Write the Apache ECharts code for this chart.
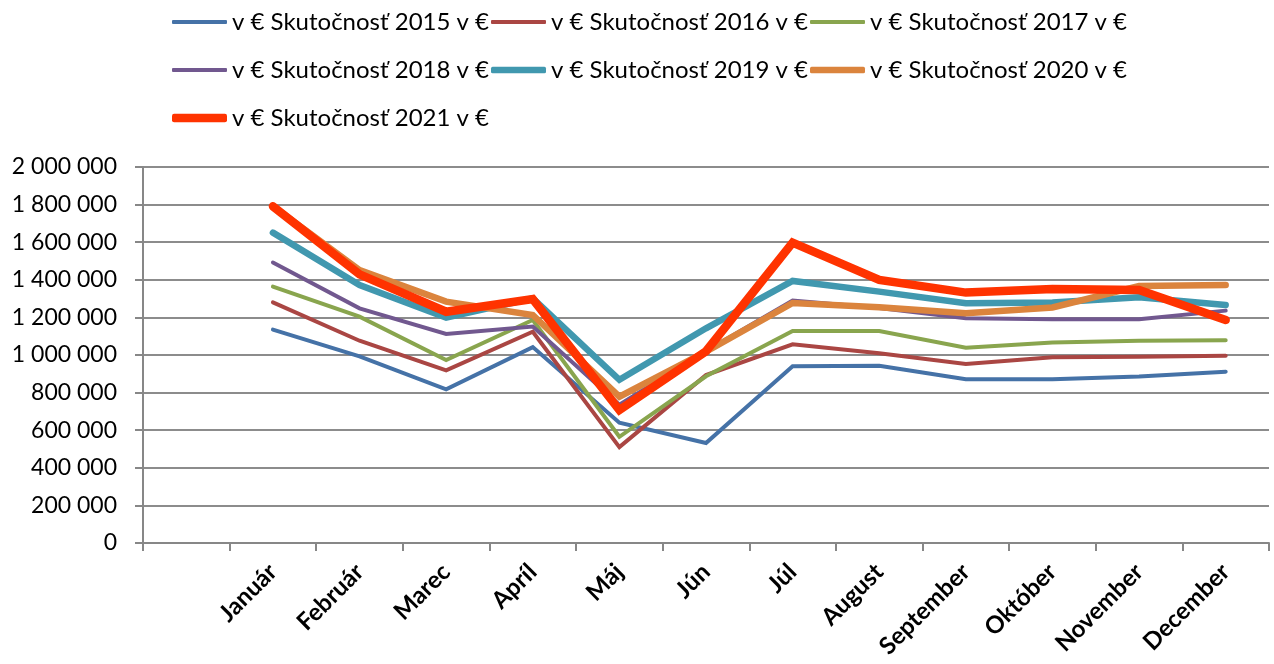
<!DOCTYPE html>
<html>
<head>
<meta charset="utf-8">
<script src="https://cdn.jsdelivr.net/npm/echarts@6/dist/echarts.min.js"></script>
<style>
html,body{margin:0;padding:0;background:#fff;}
#chart{width:1274px;height:664px;}
</style>
</head>
<body>
<div id="chart"></div>
<script>
// mesiace (prvá kategória je prázdna ako v pôvodnom grafe)
let months=["Január","Február","Marec","Apríl","Máj","Jún","Júl","August","September","Október","November","December"]
let names=["v € Skutočnosť 2015 v €","v € Skutočnosť 2016 v €","v € Skutočnosť 2017 v €","v € Skutočnosť 2018 v €","v € Skutočnosť 2019 v €","v € Skutočnosť 2020 v €","v € Skutočnosť 2021 v €"]

let y2015=[1135000,993000,817000,1042000,640000,532000,940000,943000,871000,871000,885000,911000]
let y2016=[1280000,1076000,918000,1124000,510000,893000,1057000,1009000,952000,988000,991000,996000]
let y2017=[1364000,1204000,973000,1186000,565000,887000,1128000,1128000,1039000,1066000,1076000,1078000]
let y2018=[1492000,1248000,1112000,1151000,735000,1022000,1290000,1250000,1196000,1190000,1190000,1236000]
let y2019=[1651000,1372000,1199000,1301000,868000,1142000,1394000,1337000,1275000,1279000,1307000,1266000]
let y2020=[1792000,1452000,1284000,1213000,778000,1018000,1277000,1254000,1222000,1253000,1367000,1372000]
let y2021=[1791000,1429000,1230000,1297000,707000,1020000,1598000,1399000,1332000,1351000,1346000,1186000]

let colors=["#4572A7","#AA4643","#89A54E","#71588F","#4198AF","#DB843D","#FF3300"]
let widths=[4,4,4,4,6.5,6.5,8.5]

let myChart=echarts.init(document.getElementById("chart"))

let allData=[y2015,y2016,y2017,y2018,y2019,y2020,y2021]
let series=allData.map((d,i)=>({
  name:names[i],
  type:"line",
  data:[null].concat(d),
  symbol:"none",
  color:colors[i],
  lineStyle:{width:widths[i],color:colors[i],cap:"round",join:"miter"}
}))

// jedna legenda na položku, aby hrúbka ikony sedela s hrúbkou čiary
let legends=names.map((n,i)=>({
  data:[{name:n,icon:"roundRect"}],
  left:172+(i%3)*319,
  top:[22,70,118][Math.floor(i/3)]-14,
  padding:0,
  itemWidth:55,
  itemHeight:widths[i],
  textStyle:{
    fontFamily:"Lato",
    fontSize:24,
    color:"#000",
    lineHeight:28
  }
}))

myChart.setOption({
  animation:false,
  legend:legends,
  grid:{
    left:143,
    right:5,
    top:167,
    bottom:121
  },
  xAxis:{
    type:"category",
    boundaryGap:true,
    data:[""].concat(months),
    axisLine:{lineStyle:{color:"#878787",width:2}},
    axisTick:{show:true,length:8,lineStyle:{color:"#878787",width:2}},
    axisLabel:{
      rotate:45,
      interval:0,
      margin:25,
      fontFamily:"Lato",
      fontWeight:"bold",
      fontSize:24,
      color:"#000"
    }
  },
  yAxis:{
    type:"value",
    min:0,
    max:2000000,
    interval:200000,
    axisLine:{show:true,lineStyle:{color:"#878787",width:2}},
    axisTick:{show:true,length:8,lineStyle:{color:"#878787",width:2}},
    splitLine:{lineStyle:{color:"#8c8c8c",width:2}},
    axisLabel:{
      margin:26,
      fontFamily:"Lato",
      fontSize:23,
      color:"#000",
      formatter:function(v){
        return String(v).replace(/\B(?=(\d{3})+(?!\d))/g," ")
      }
    }
  },
  series:series
})
</script>
</body>
</html>
